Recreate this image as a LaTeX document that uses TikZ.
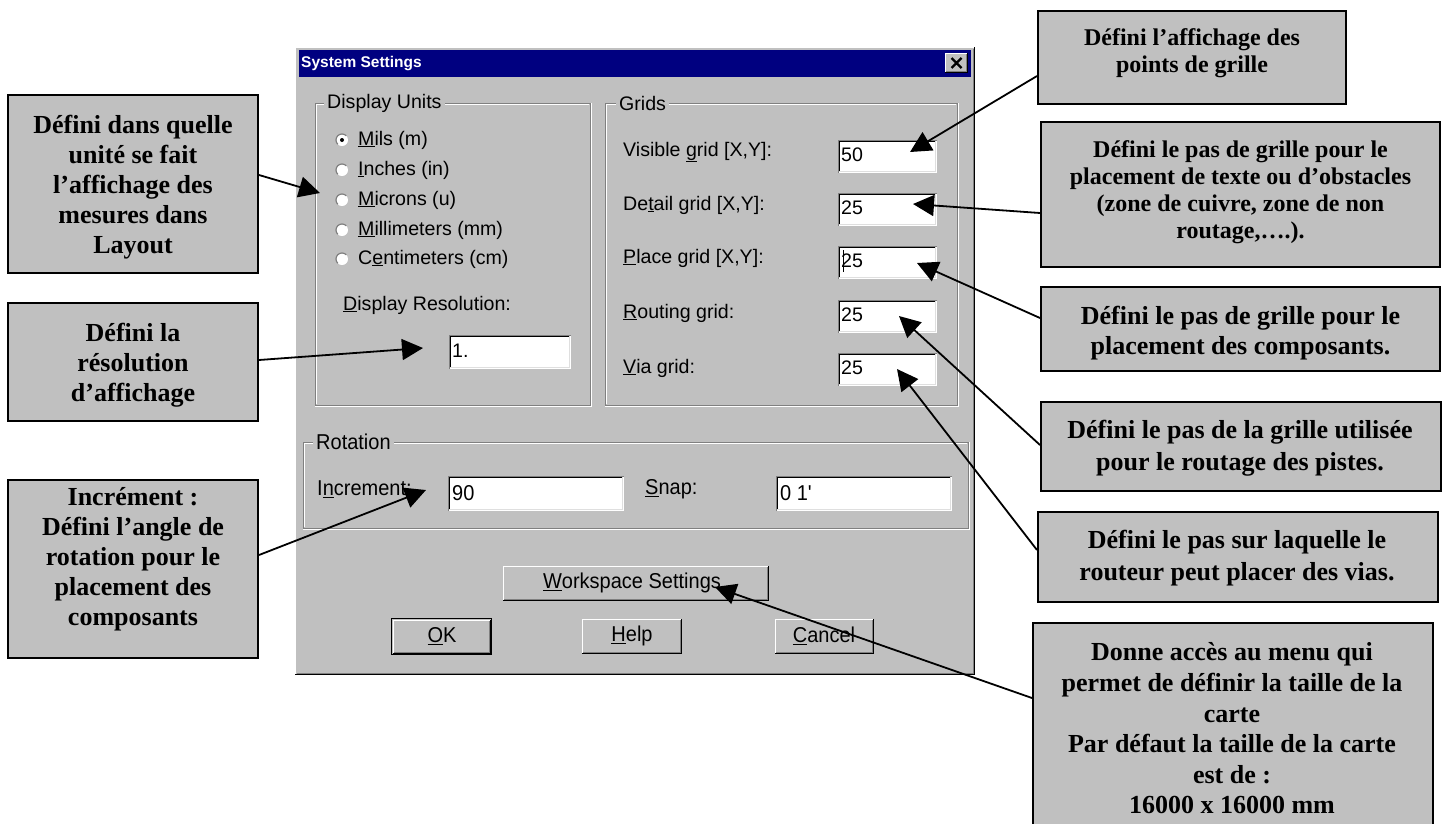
\documentclass[tikz,border=0pt]{standalone}
\usepackage{fontspec}
\usetikzlibrary{arrows.meta}
\newfontfamily\dlgf{Liberation Sans}
\newfontfamily\dlgc[FakeStretch=0.93]{Liberation Sans}
\newfontfamily\cof{Liberation Serif}
\definecolor{winbg}{HTML}{C0C0C0}
\definecolor{navy}{HTML}{000080}
\definecolor{dk}{HTML}{808080}
\definecolor{ltg}{HTML}{DFDFDF}
\newcommand\myEtch[4]{%
  \draw[dk,line width=1pt] (#1,#2) rectangle (#3,#4);
  \draw[white,line width=1pt] (#1+1,#2+1) -- (#3-1,#2+1);
  \draw[white,line width=1pt] (#1+1,#4-1) -- (#1+1,#2+1);
  \draw[white,line width=1pt] (#1,#4+1) -- (#3+1,#4+1) -- (#3+1,#2);
}
\newcommand\mySunk[4]{%
  \fill[white] (#1,#2) rectangle (#3,#4);
  \draw[dk,line width=1pt] (#1+.5,#4) -- (#1+.5,#2+.5) -- (#3,#2+.5);
  \draw[black,line width=1pt] (#1+1.5,#4-1) -- (#1+1.5,#2+1.5) -- (#3-1,#2+1.5);
  \draw[ltg,line width=1pt] (#1+1,#4-1.5) -- (#3-1.5,#4-1.5) -- (#3-1.5,#2+1);
}
\newcommand\myBtn[4]{%
  \fill[winbg] (#1,#2) rectangle (#3,#4);
  \draw[white,line width=1pt] (#1+.5,#4-1) -- (#1+.5,#2+.5) -- (#3-1,#2+.5);
  \draw[black,line width=1pt] (#1,#4-.5) -- (#3-.5,#4-.5) -- (#3-.5,#2);
  \draw[dk,line width=1pt] (#1+1,#4-1.5) -- (#3-1.5,#4-1.5) -- (#3-1.5,#2+1);
}
\tikzset{
  lbl/.style={font=\dlgf\fontsize{19.6}{22}\selectfont, anchor=west, inner sep=0pt, text=black},
  clbl/.style={font=\dlgc\fontsize{21.5}{24}\selectfont, anchor=west, inner sep=0pt, text=black},
  cbtn/.style={font=\dlgc\fontsize{21.5}{24}\selectfont, inner sep=0pt, text=black},
  grp/.style={lbl, fill=winbg, inner xsep=3pt, inner ysep=0pt},
  cgrp/.style={clbl, fill=winbg, inner xsep=3pt, inner ysep=0pt},
  callout/.style={draw=black, line width=2pt, fill=winbg, inner sep=0pt},
  ctext/.style={font=\cof\bfseries\fontsize{26}{30}\selectfont, align=center, inner sep=0pt},
  ctextsm/.style={font=\cof\bfseries\fontsize{24}{27}\selectfont, align=center, inner sep=0pt},
  ptr/.style={line width=1.8pt, -{Triangle[length=21pt,width=21pt]}},
}
\begin{document}
\begin{tikzpicture}[x=1pt,y=-1pt]
\useasboundingbox (0,0) rectangle (1444,823);
% ---------- dialog window ----------
\fill[winbg] (295,47) rectangle (975,675);
\draw[white,line width=1pt] (295.5,675) -- (295.5,47.5) -- (975,47.5);
\draw[black,line width=1pt] (295,674.5) -- (974.5,674.5) -- (974.5,47);
\draw[dk,line width=1pt] (296.5,673.5) -- (973.5,673.5) -- (973.5,48.5);
\fill[navy] (299,50) rectangle (971,77);
\node[font=\dlgf\bfseries\fontsize{15.5}{18}\selectfont, text=white, anchor=west, inner sep=0pt] (title) at (301,64) {System Settings};
\myBtn{945}{53}{968}{73}
\draw[line width=2.2pt] (951.5,58) -- (961.5,68) (961.5,58) -- (951.5,68);
% ---------- group boxes ----------
\myEtch{315}{103}{590}{405}
\myEtch{605}{103}{957}{405}
\myEtch{303}{442}{968}{528}
\node[grp] (gunits) at (324,103) {Display Units};
\node[grp] (ggrids) at (616,103) {Grids};
\node[cgrp] (grot) at (313,442) {Rotation};
% ---------- radio buttons ----------
\foreach \yy in {140,170,200,230,259}{
  \fill[white] (342,\yy) circle (6);
  \draw[dk,line width=1.2pt] ([shift={(135:6)}]342,\yy) arc (135:315:6);
}
\fill[black] (342,140) circle (2);
\node[lbl] (rmils) at (358,140) {\underline{M}ils (m)};
\node[lbl] (rinch) at (358,170) {\underline{I}nches (in)};
\node[lbl] (rmicr) at (358,200) {\underline{M}icrons (u)};
\node[lbl] (rmill) at (358,230) {\underline{M}illimeters (mm)};
\node[lbl] (rcent) at (358,259) {C\underline{e}ntimeters (cm)};
\node[lbl] (dres) at (343,305) {\underline{D}isplay Resolution:};
\mySunk{449}{335}{571}{369}
\node[lbl] (vres) at (452,351) {1.};
% ---------- grids ----------
\node[lbl] (lvis) at (623,152) {Visible \underline{g}rid [X,Y]:};
\node[lbl] (ldet) at (623,205) {De\underline{t}ail grid [X,Y]:};
\node[lbl] (lpla) at (623,258) {\underline{P}lace grid [X,Y]:};
\node[lbl] (lrou) at (623,313) {\underline{R}outing grid:};
\node[lbl] (lvia) at (623,368) {\underline{V}ia grid:};
\mySunk{838}{140}{937}{173}
\mySunk{838}{193}{937}{226}
\mySunk{838}{246}{937}{279}
\mySunk{838}{300}{937}{333}
\mySunk{838}{353}{937}{386}
\node[lbl] (vvis) at (841,155) {50};
\node[lbl] (vdet) at (841,208) {25};
\node[lbl] (vpla) at (841,261) {25};
\node[lbl] (vrou) at (841,315) {25};
\node[lbl] (vvia) at (841,368) {25};
\draw[black,line width=1pt] (843,250) -- (843,272);
% ---------- rotation ----------
\node[clbl] (linc) at (317,489) {I\underline{n}crement:};
\mySunk{448}{476}{624}{511}
\node[clbl] (vinc) at (452,493) {90};
\node[clbl] (lsnap) at (645,489) {\underline{S}nap:};
\mySunk{776}{476}{952}{511}
\node[clbl] (vsnap) at (780,493) {0 1'};
% ---------- buttons ----------
\myBtn{503}{566}{769}{601}
\node[cbtn] (bws) at (632,583) {\underline{W}orkspace Settings};
\draw[black,line width=1pt] (391.5,618.5) rectangle (491.5,654.5);
\myBtn{393}{620}{491}{654}
\node[cbtn] (bok) at (442,636) {\underline{O}K};
\myBtn{582}{619}{682}{654}
\node[cbtn] (bhelp) at (632,636) {\underline{H}elp};
\myBtn{775}{619}{874}{654}
\node[cbtn] (bcan) at (824,636) {\underline{C}ancel};
% ---------- arrow targets ----------
\coordinate (tunits) at (320,193);
\coordinate (tres) at (423,348);
\coordinate (tinc) at (426,490);
\coordinate (tvis) at (910,152);
\coordinate (tdet) at (913,204);
\coordinate (tpla) at (917,263);
\coordinate (trou) at (899,316);
\coordinate (tvia) at (897,369);
\coordinate (tws) at (715,587);
% ---------- callouts ----------
\node[callout, minimum width=250pt, minimum height=178pt] (b1) at (133,184) {};
\node[ctext] (b1t) at (133,187) {Défini dans quelle\\unité se fait\\l’affichage des\\mesures dans\\Layout};
\node[callout, minimum width=250pt, minimum height=118pt] (b2) at (133,362) {};
\node[ctext] (b2t) at (133,365) {Défini la\\résolution\\d’affichage};
\node[callout, minimum width=250pt, minimum height=178pt] (b3) at (133,569) {};
\node[ctext] (b3t) at (133,559) {Incrément :\\Défini l’angle de\\rotation pour le\\placement des\\composants};
\node[callout, minimum width=308pt, minimum height=93pt] (r1) at (1192,57.5) {};
\node[ctextsm] (r1t) at (1192,53.5) {Défini l’affichage des\\points de grille};
\node[callout, minimum width=399pt, minimum height=145pt] (r2) at (1240.5,194.5) {};
\node[ctextsm] (r2t) at (1240.5,192) {Défini le pas de grille pour le\\placement de texte ou d’obstacles\\(zone de cuivre, zone de non\\routage,….).};
\node[callout, minimum width=399pt, minimum height=84pt] (r3) at (1240.5,329) {};
\node[ctext] (r3t) at (1240.5,333) {Défini le pas de grille pour le\\placement des composants.};
\node[callout, minimum width=400pt, minimum height=89pt] (r4) at (1241,446.5) {};
\node[ctext, font=\cof\bfseries\fontsize{26}{32}\selectfont] (r4t) at (1240,448) {Défini le pas de la grille utilisée\\pour le routage des pistes.};
\node[callout, minimum width=400pt, minimum height=90pt] (r5) at (1238,557) {};
\node[ctext, font=\cof\bfseries\fontsize{26}{32}\selectfont] (r5t) at (1237,558) {Défini le pas sur laquelle le\\routeur peut placer des vias.};
\node[callout, minimum width=400pt, minimum height=217pt] (r6) at (1233,731.5) {};
\node[ctext, font=\cof\bfseries\fontsize{26}{30.6}\selectfont] (r6t) at (1232,728.5) {Donne accès au menu qui\\permet de définir la taille de la\\carte\\Par défaut la taille de la carte\\est de :\\16000 x 16000 mm};
% ---------- connectors ----------
\draw[ptr] ([yshift=9pt]b1.east) -- (tunits);
\draw[ptr] ([yshift=2pt]b2.east) -- (tres);
\draw[ptr] ([yshift=14pt]b3.east) -- (tinc);
\draw[ptr] ([yshift=-18.5pt]r1.west) -- (tvis);
\draw[ptr] ([yshift=-18.5pt]r2.west) -- (tdet);
\draw[ptr] ([yshift=11pt]r3.west) -- (tpla);
\draw[ptr] ([yshift=1.5pt]r4.west) -- (trou);
\draw[ptr] ([yshift=7pt]r5.west) -- (tvia);
\draw[ptr] ([yshift=33.5pt]r6.west) -- (tws);
\end{tikzpicture}
\end{document}
